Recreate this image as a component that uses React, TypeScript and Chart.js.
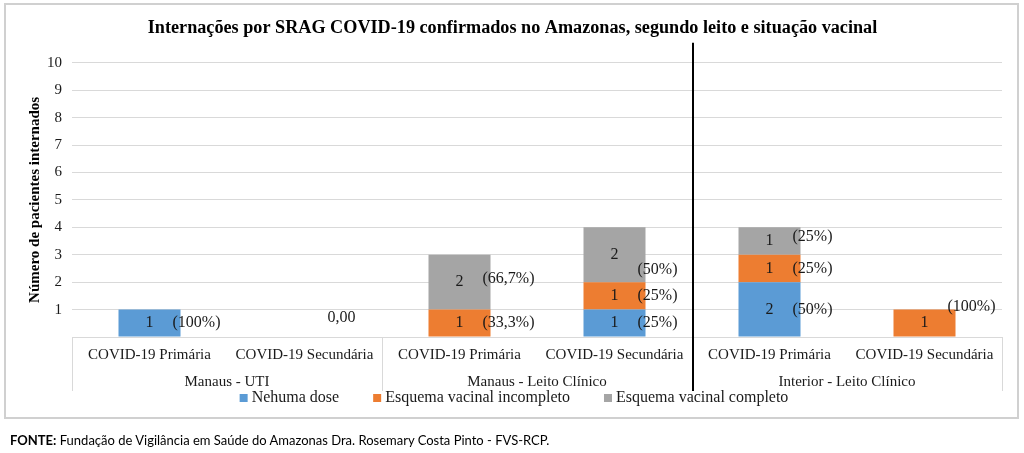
import React, { useEffect, useRef } from 'react';
import { Chart, registerables } from 'chart.js';

Chart.register(...registerables);

// ---- data ----
const categories = [
  'COVID-19 Primária',
  'COVID-19 Secundária',
  'COVID-19 Primária',
  'COVID-19 Secundária',
  'COVID-19 Primária',
  'COVID-19 Secundária',
];
const groups = ['Manaus - UTI', 'Manaus - Leito Clínico', 'Interior - Leito Clínico'];
const seriesNames = ['Nehuma dose', 'Esquema vacinal incompleto', 'Esquema vacinal completo'];
const nenhumaDose = [1, 0, 0, 1, 2, 0];
const esquemaIncompleto = [0, 0, 1, 1, 1, 1];
const esquemaCompleto = [0, 0, 2, 2, 1, 0];
const nenhumaDosePct = ['(100%)', '0,00', '', '(25%)', '(50%)', ''];
const esquemaIncompletoPct = ['', '', '(33,3%)', '(25%)', '(25%)', '(100%)'];
const esquemaCompletoPct = ['', '', '(66,7%)', '(50%)', '(25%)', ''];
const yMin = 0;
const yMax = 10;
const yStep = 1;

const titleText =
  'Internações por SRAG COVID-19 confirmados no Amazonas, segundo leito e situação vacinal';
const yTitle = 'Número de pacientes internados';

// ---- styles ----
const SERIF = '"Liberation Serif", "Times New Roman", serif';
const COLORS = ['#5B9BD5', '#ED7D31', '#A5A5A5'];
const GRID = '#d9d9d9';
const TEXT = '#1a1a1a';
// vertical nudges for some percentage labels: "dataset:index" -> px
const PCT_NUDGE: Record<string, number> = {
  '0:1': -19,
  '2:2': -3,
  '2:3': 15,
  '2:4': -4,
  '1:5': -16,
};

const pctLabels = [nenhumaDosePct, esquemaIncompletoPct, esquemaCompletoPct];

const barLabels = {
  id: 'barLabels',
  afterDatasetsDraw(chart: any) {
    const ctx = chart.ctx;
    ctx.save();
    ctx.font = `16px ${SERIF}`;
    ctx.fillStyle = TEXT;
    ctx.textBaseline = 'middle';
    chart.data.datasets.forEach((ds: any, di: number) => {
      const meta = chart.getDatasetMeta(di);
      const pcts = pctLabels[di];
      meta.data.forEach((bar: any, i: number) => {
        const { x, y, base, width } = bar.getProps(['x', 'y', 'base', 'width'], true);
        const v = ds.data[i];
        const cy = (y + base) / 2;
        if (v > 0) {
          ctx.textAlign = 'center';
          ctx.fillText(String(v), x, cy);
        }
        const p = pcts[i];
        if (p) {
          ctx.textAlign = 'left';
          ctx.fillText(p, x + width / 2 - 8, cy + (PCT_NUDGE[`${di}:${i}`] ?? 0));
        }
      });
    });
    ctx.restore();
  },
};

const tableLines = {
  id: 'tableLines',
  afterDraw(chart: any) {
    const { ctx, chartArea, scales } = chart;
    const bottom = scales.x2.bottom;
    const step = (chartArea.right - chartArea.left) / categories.length;
    const per = categories.length / groups.length;
    ctx.save();
    ctx.strokeStyle = GRID;
    ctx.lineWidth = 1;
    for (let g = 0; g <= groups.length; g++) {
      const px = Math.round(chartArea.left + g * per * step) + 0.5;
      ctx.beginPath();
      ctx.moveTo(px, chartArea.bottom);
      ctx.lineTo(px, bottom);
      ctx.stroke();
    }
    const sx = Math.round(chartArea.left + 2 * per * step) + 1;
    ctx.strokeStyle = '#000';
    ctx.lineWidth = 2;
    ctx.beginPath();
    ctx.moveTo(sx, chartArea.top - 20);
    ctx.lineTo(sx, bottom);
    ctx.stroke();
    ctx.restore();
  },
};

// custom legend drawn below the category table, from the dataset labels/colours
const bottomLegend = {
  id: 'bottomLegend',
  afterDraw(chart: any) {
    const { ctx, scales } = chart;
    const box = 8;
    const gap = 4;
    const itemGap = 34;
    ctx.save();
    ctx.font = `16px ${SERIF}`;
    const items = chart.data.datasets.map((ds: any) => ({
      text: ds.label,
      color: ds.backgroundColor,
      w: box + gap + ctx.measureText(ds.label).width,
    }));
    const total = items.reduce((s: number, it: any) => s + it.w, 0) + itemGap * (items.length - 1);
    let x = (chart.width - total) / 2 + 2;
    const cy = scales.x2.bottom + 7;
    ctx.textBaseline = 'middle';
    ctx.textAlign = 'left';
    items.forEach((it: any) => {
      ctx.fillStyle = it.color;
      ctx.fillRect(x, cy - box / 2, box, box);
      ctx.fillStyle = TEXT;
      ctx.fillText(it.text, x + box + gap, cy);
      x += it.w + itemGap;
    });
    ctx.restore();
  },
};

export default function App() {
  const ref = useRef<HTMLCanvasElement | null>(null);

  useEffect(() => {
    if (!ref.current) return;
    const chart = new Chart(ref.current, {
      type: 'bar',
      data: {
        labels: categories,
        datasets: [
          { label: seriesNames[0], data: nenhumaDose, backgroundColor: COLORS[0] },
          { label: seriesNames[1], data: esquemaIncompleto, backgroundColor: COLORS[1] },
          { label: seriesNames[2], data: esquemaCompleto, backgroundColor: COLORS[2] },
        ],
      },
      options: {
        responsive: false,
        animation: false,
        datasets: { bar: { categoryPercentage: 1, barPercentage: 0.4 } },
        layout: { padding: { left: 23, right: 22, top: 10, bottom: 62 } },
        plugins: {
          title: {
            display: true,
            text: titleText,
            color: '#000',
            font: { family: SERIF, size: 18.2, weight: 'bold' },
            padding: { top: 7, bottom: 24 },
          },
          legend: { display: false },
          tooltip: { enabled: false },
        },
        scales: {
          x: {
            stacked: true,
            grid: { display: false, drawTicks: false },
            border: { display: false },
            ticks: {
              color: TEXT,
              font: { family: SERIF, size: 15 },
              padding: 9,
              maxRotation: 0,
              autoSkip: false,
            },
          },
          x2: {
            type: 'category',
            labels: groups,
            position: 'bottom',
            offset: true,
            grid: { display: false, drawTicks: false },
            border: { display: false },
            ticks: {
              color: TEXT,
              font: { family: SERIF, size: 15 },
              padding: 0,
              maxRotation: 0,
              autoSkip: false,
            },
          },
          y: {
            stacked: true,
            min: yMin,
            max: yMax,
            ticks: {
              stepSize: yStep,
              color: TEXT,
              font: { family: SERIF, size: 15 },
              padding: 10,
              callback: (v: any) => (v === 0 ? '' : String(v)),
            },
            grid: { color: GRID, drawTicks: false },
            border: { display: false },
            title: {
              display: true,
              text: yTitle,
              color: '#000',
              font: { family: SERIF, size: 15, weight: 'bold' },
              padding: { top: 3, bottom: -7 },
            },
          },
        },
      } as any,
      plugins: [barLabels, tableLines, bottomLegend],
    });
    return () => chart.destroy();
  }, []);

  return (
    <div
      style={{
        position: 'absolute',
        left: 0,
        top: 0,
        width: 1024,
        height: 453,
        background: '#fff',
        overflow: 'hidden',
      }}
    >
      <div
        style={{
          position: 'absolute',
          left: 4,
          top: 3,
          width: 1015,
          height: 416,
          boxSizing: 'border-box',
          border: '2px solid #d0d0d0',
        }}
      />
      <canvas
        ref={ref}
        width={1024}
        height={453}
        style={{ position: 'absolute', left: 0, top: 0, width: 1024, height: 453 }}
      />
      <div
        style={{
          position: 'absolute',
          left: 10,
          top: 432,
          fontFamily: 'Lato, "Open Sans", sans-serif',
          fontSize: 13,
          color: '#000',
          whiteSpace: 'nowrap',
        }}
      >
        <b>FONTE:</b> Fundação de Vigilância em Saúde do Amazonas Dra. Rosemary Costa Pinto - FVS-RCP.
      </div>
    </div>
  );
}
